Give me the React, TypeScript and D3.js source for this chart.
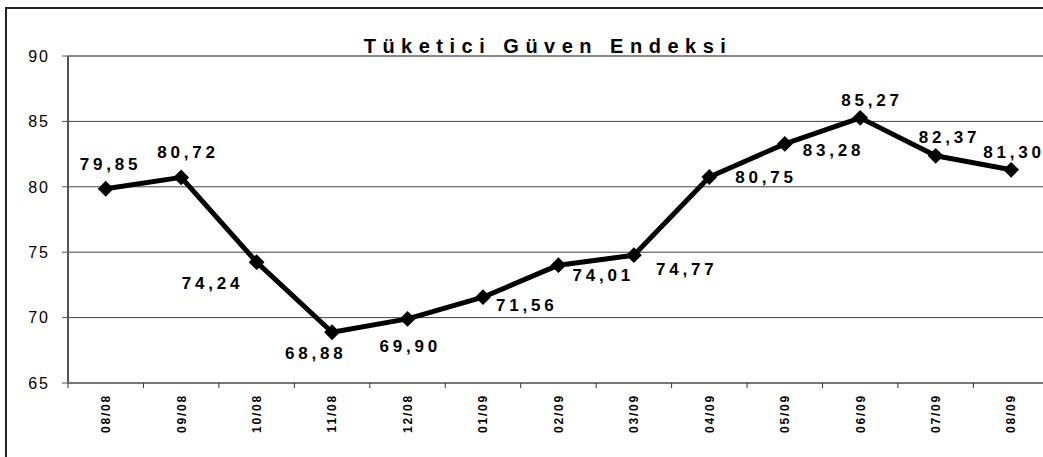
import { useEffect, useRef } from 'react'
import * as d3 from 'd3'

const months = ['08/08', '09/08', '10/08', '11/08', '12/08', '01/09', '02/09', '03/09', '04/09', '05/09', '06/09', '07/09', '08/09']
const indexValues = [79.85, 80.72, 74.24, 68.88, 69.9, 71.56, 74.01, 74.77, 80.75, 83.28, 85.27, 82.37, 81.3]
const yTicks = [65, 70, 75, 80, 85, 90]
// where each value label sits relative to its point
const labelOffsets = [
  [-26, -19], [-24, -19], [-75, 27], [-47, 27], [-28, 33], [13, 14], [14, 16],
  [22, 20], [26, 6], [18, 12], [-19, -12], [-17, -13], [-28, -12],
]

export default () => {
  const rootRef = useRef<SVGSVGElement>(null)

  useEffect(() => {
    const width = 1043, height = 457
    const margin = { top: 56, left: 68, bottom: 383 }
    const step = 75.45

    const svg = d3.select(rootRef.current).attr('width', width).attr('height', height)
    svg.selectAll('*').remove()

    svg.append('rect').attr('x', 0).attr('y', 0).attr('width', width).attr('height', height).attr('fill', '#fff')

    // outer frame
    svg.append('rect')
      .attr('x', 6).attr('y', 8).attr('width', 1080).attr('height', 480)
      .attr('fill', 'none').attr('stroke', '#222').attr('stroke-width', 2)

    const x = d3.scaleBand<string>().domain(months).range([margin.left, margin.left + step * months.length])
    const y = d3.scaleLinear().domain([65, 90]).range([margin.bottom, margin.top])
    const right = margin.left + step * months.length

    // gridlines
    svg.append('g')
      .selectAll('line')
      .data(yTicks.filter((t) => t > 65))
      .join('line')
      .attr('x1', margin.left).attr('x2', right)
      .attr('y1', (d) => y(d)).attr('y2', (d) => y(d))
      .attr('stroke', (d) => (d === 90 ? '#888' : '#444'))
      .attr('stroke-width', (d) => (d === 90 ? 2 : 1))

    // y axis
    const yAxis = svg.append('g')
    yAxis.append('line')
      .attr('x1', margin.left).attr('x2', margin.left)
      .attr('y1', margin.top).attr('y2', margin.bottom + 1)
      .attr('stroke', '#555').attr('stroke-width', 2)
    yAxis.selectAll('line.tick')
      .data(yTicks)
      .join('line')
      .attr('class', 'tick')
      .attr('x1', margin.left - 6).attr('x2', margin.left)
      .attr('y1', (d) => y(d)).attr('y2', (d) => y(d))
      .attr('stroke', '#555').attr('stroke-width', 1)
    yAxis.selectAll('text')
      .data(yTicks)
      .join('text')
      .attr('x', 50).attr('y', (d) => y(d))
      .attr('dy', '0.36em')
      .attr('text-anchor', 'end')
      .style('font-family', 'Liberation Sans, Arial, sans-serif')
      .style('font-size', '16px')
      .style('letter-spacing', '2px')
      .text((d) => d)

    // x axis
    const xAxis = svg.append('g')
    xAxis.append('line')
      .attr('x1', margin.left - 1).attr('x2', right)
      .attr('y1', margin.bottom).attr('y2', margin.bottom)
      .attr('stroke', '#777').attr('stroke-width', 2)
    xAxis.selectAll('line.tick')
      .data(d3.range(months.length + 1))
      .join('line')
      .attr('class', 'tick')
      .attr('x1', (i) => margin.left + i * x.step()).attr('x2', (i) => margin.left + i * x.step())
      .attr('y1', margin.bottom).attr('y2', margin.bottom + 5)
      .attr('stroke', '#333').attr('stroke-width', 1)
    xAxis.selectAll('text')
      .data(months)
      .join('text')
      .attr('transform', (d) => `translate(${(x(d) as number) + x.bandwidth() / 2},394) rotate(-90)`)
      .attr('dy', '0.36em')
      .attr('text-anchor', 'end')
      .style('font-family', 'Liberation Sans, Arial, sans-serif')
      .style('font-size', '12px')
      .style('font-weight', 'bold')
      .style('letter-spacing', '1.8px')
      .text((d) => d)

    const px = (i: number) => (x(months[i]) as number) + x.bandwidth() / 2

    // line
    svg.append('path')
      .datum(indexValues)
      .attr('fill', 'none')
      .attr('stroke', '#000')
      .attr('stroke-width', 5)
      .attr('stroke-linejoin', 'round')
      .attr('d', d3.line<number>().x((_, i) => px(i)).y((d) => y(d)))

    // markers
    svg.append('g')
      .selectAll('path')
      .data(indexValues)
      .join('path')
      .attr('transform', (d, i) => `translate(${px(i)},${y(d)}) rotate(45)`)
      .attr('d', d3.symbol(d3.symbolSquare, 125)())
      .attr('fill', '#000')

    // value labels
    svg.append('g')
      .selectAll('text')
      .data(indexValues)
      .join('text')
      .attr('x', (d, i) => px(i) + labelOffsets[i][0])
      .attr('y', (d, i) => y(d) + labelOffsets[i][1])
      .style('font-family', 'Liberation Sans, Arial, sans-serif')
      .style('font-size', '17px')
      .style('font-weight', 'bold')
      .style('letter-spacing', '3.8px')
      .text((d) => d.toFixed(2).replace('.', ','))

    // title
    svg.append('text')
      .attr('x', 548).attr('y', 53)
      .attr('text-anchor', 'middle')
      .style('font-family', 'Liberation Sans, Arial, sans-serif')
      .style('font-size', '20px')
      .style('font-weight', 'bold')
      .style('letter-spacing', '6.5px')
      .text('Tüketici Güven Endeksi')
  }, [])

  return <svg ref={rootRef} style={{ position: 'absolute', left: 0, top: 0 }}></svg>
}
